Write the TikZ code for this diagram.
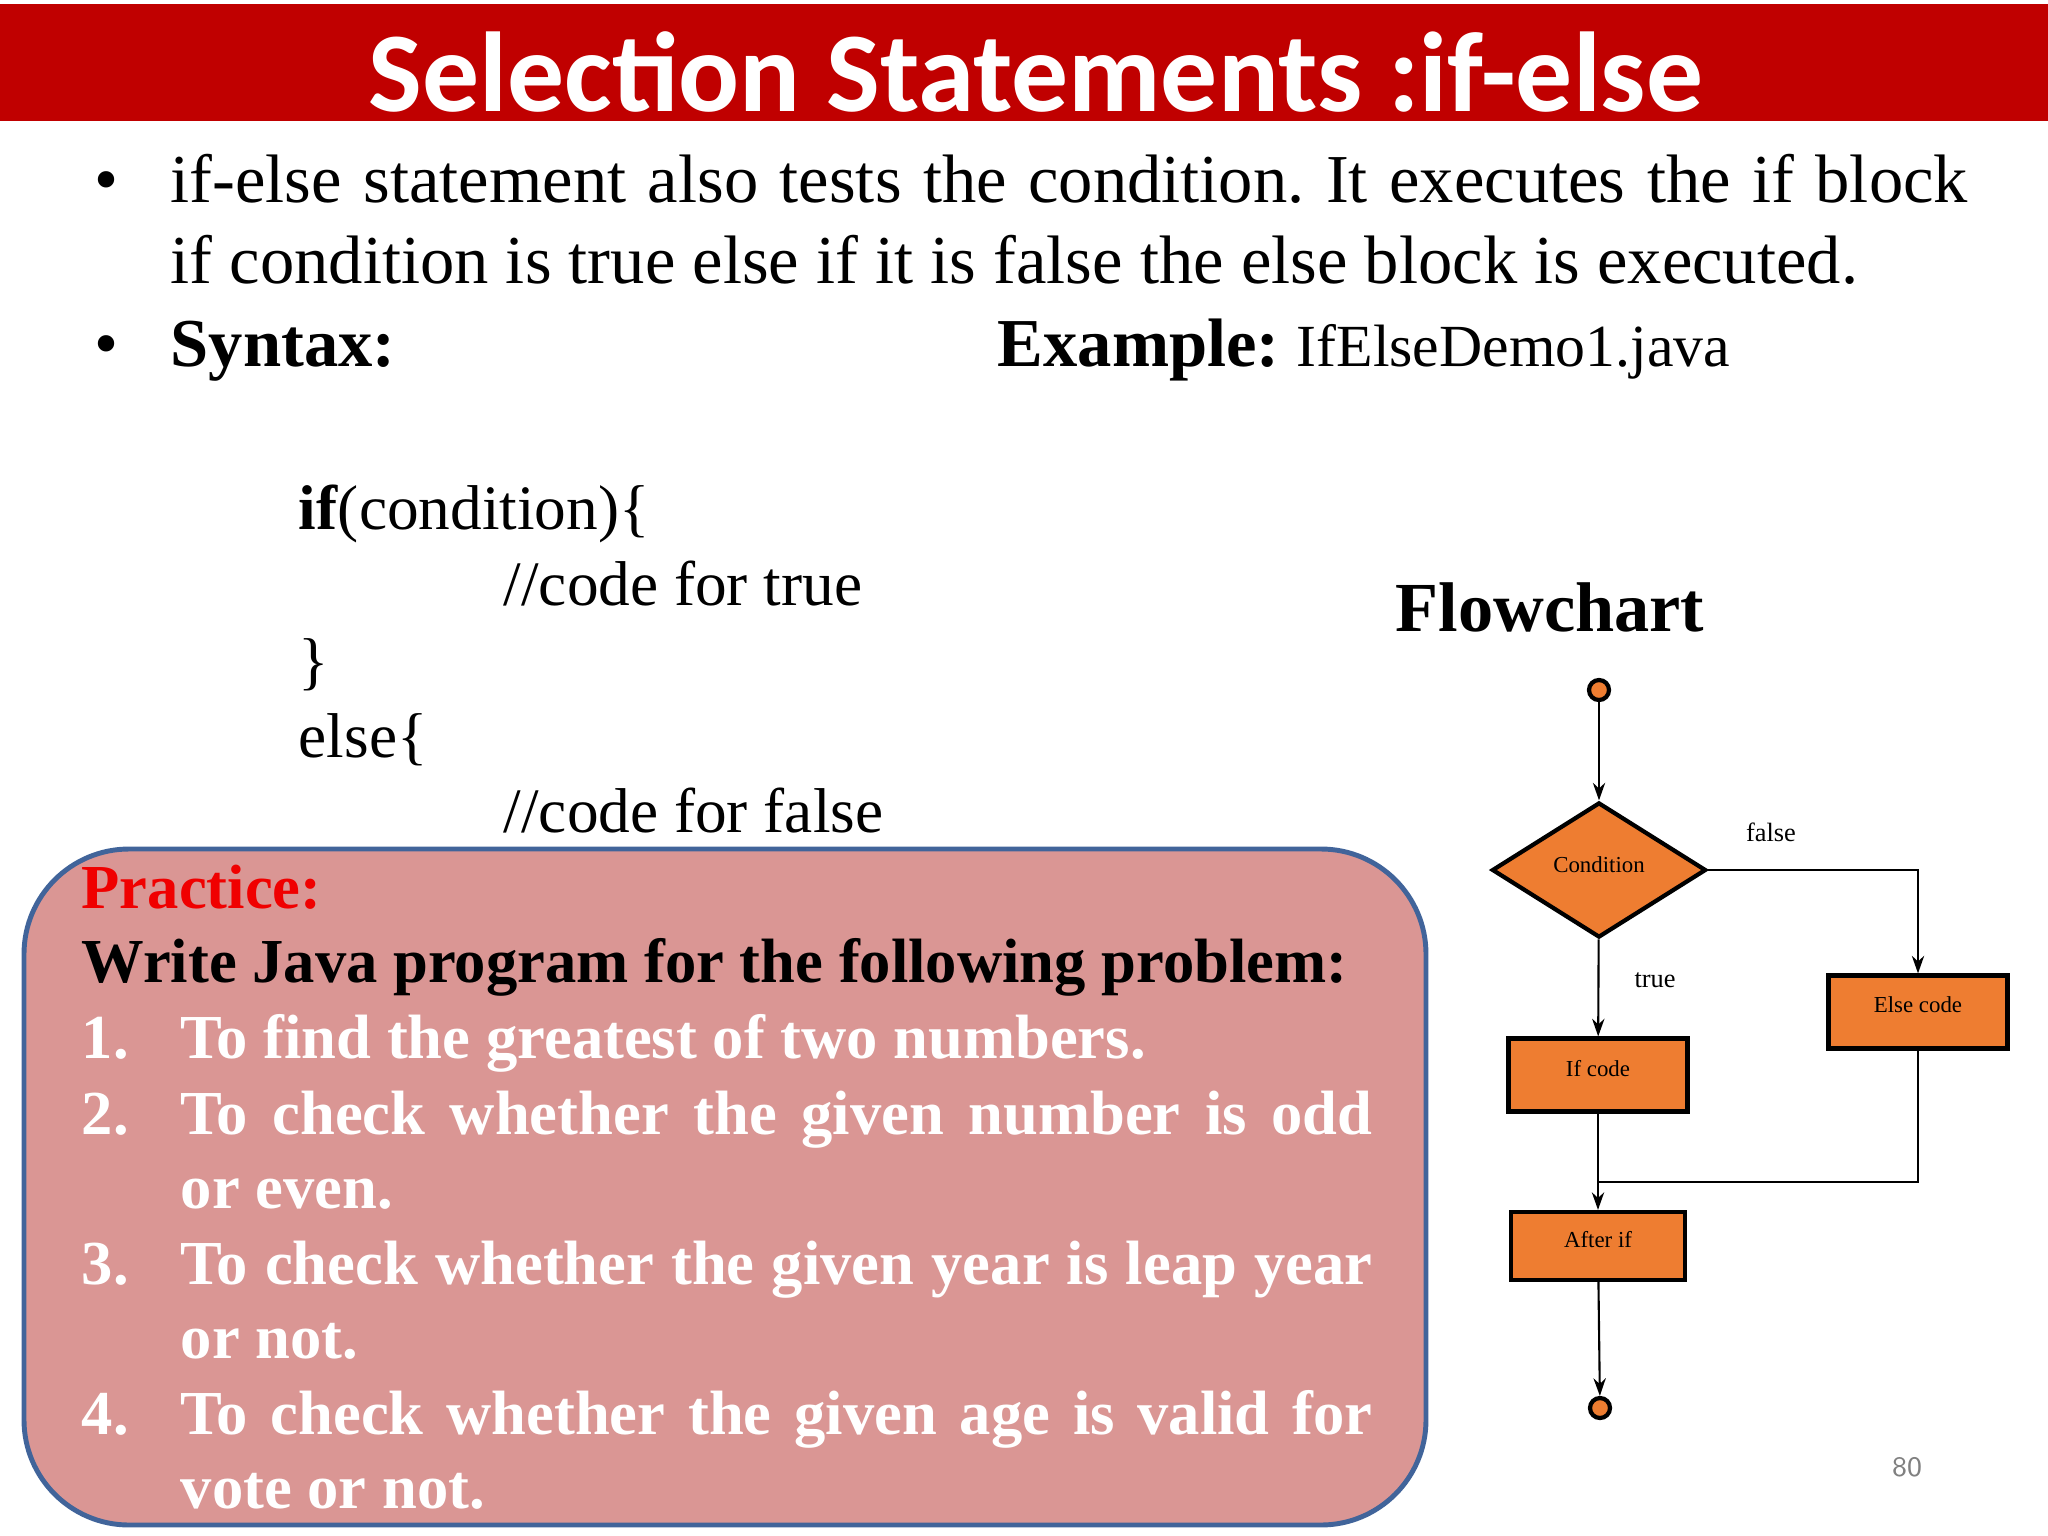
\documentclass[tikz,border=0pt]{standalone}
\usepackage{fontspec}
\setmainfont{Liberation Serif}
\newfontfamily\titlefont{Carlito}
\usetikzlibrary{shapes.geometric,positioning,arrows.meta}
\frenchspacing
\definecolor{titleRed}{HTML}{C00000}
\definecolor{boxPink}{HTML}{DA9694}
\definecolor{boxBlue}{HTML}{41649A}
\definecolor{flowOrange}{HTML}{EE7D31}
\definecolor{practiceRed}{HTML}{F00000}
\tikzset{
  bodyText/.style={anchor=base west, inner sep=0pt, font=\fontsize{19.5}{22}\selectfont},
  codeText/.style={anchor=base west, inner sep=0pt, font=\fontsize{18}{20}\selectfont},
  practiceText/.style={anchor=base west, inner sep=0pt, font=\fontsize{17.8}{20}\selectfont\bfseries},
  flowBox/.style={draw, line width=1.2pt, fill=flowOrange, minimum width=1.79cm, minimum height=0.73cm, inner sep=0pt, font=\fontsize{6.5}{7}\selectfont},
  flowEnd/.style={draw, line width=1.2pt, fill=flowOrange, circle, minimum size=0.2cm, inner sep=0pt},
  flowArrow/.style={-{Stealth[length=5pt,width=3.5pt]}, line width=0.6pt},
  flowLabel/.style={font=\fontsize{7.5}{8}\selectfont, inner sep=0pt}
}
\begin{document}
\begin{tikzpicture}[x=0.01cm, y=-0.01cm]
\useasboundingbox (0,0) rectangle (2048,1536);
\def\itemWidth{11.91cm}

% title bar
\fill[titleRed] (0,4) rectangle (2048,121);
\node[text=white, font=\titlefont\fontsize{32.3}{36}\selectfont\bfseries] (title) at (1036,72) {Selection Statements :if-else};

% bullets
\node[bodyText] (bulA) at (94,202) {\textbullet};
\node[bodyText] (lineA) at (170,202) {\makebox[17.96cm][s]{if-else statement also tests the condition. It executes the if block}};
\node[bodyText] (lineB) at (170,283) {if condition is true else if it is false the else block is executed.};
\node[bodyText] (bulB) at (94,366) {\textbullet};
\node[bodyText] (syntax) at (170,366) {\textbf{Syntax:}};
\node[bodyText] (example) at (997,366) {\textbf{Example:} {\fontsize{17}{20}\selectfont IfElseDemo1.java}};

% code
\node[codeText] (codeA) at (298,529) {\textbf{if}(condition)\{};
\node[codeText] (codeB) at (503,605) {//code for true};
\node[codeText] (codeC) at (298,682) {\}};
\node[codeText] (codeD) at (298,757) {else\{};
\node[codeText] (codeE) at (503,832) {//code for false};

% practice box
\draw[boxBlue, line width=1.4pt, fill=boxPink, rounded corners=1.05cm] (24,849) rectangle (1426,1525);
\node[practiceText, text=practiceRed] (practice) at (81,908) {Practice:};
\node[practiceText] (task) at (81,982) {Write Java program for the following problem:};
\foreach \num/\yPos in {1/1058, 2/1134, 3/1284, 4/1434}
  \node[practiceText, text=white] (num\num) at (81,\yPos) {\num.};
\node[practiceText, text=white] (itemA) at (180,1058) {To find the greatest of two numbers.};
\node[practiceText, text=white] (itemB) at (180,1134) {\makebox[\itemWidth][s]{To check whether the given number is odd}};
\node[practiceText, text=white] (itemBb) at (180,1208) {or even.};
\node[practiceText, text=white] (itemC) at (180,1284) {\makebox[\itemWidth][s]{To check whether the given year is leap year}};
\node[practiceText, text=white] (itemCb) at (180,1358) {or not.};
\node[practiceText, text=white] (itemD) at (180,1434) {\makebox[\itemWidth][s]{To check whether the given age is valid for}};
\node[practiceText, text=white] (itemDb) at (180,1508) {vote or not.};

% flowchart
\node[anchor=base, inner sep=0pt, font=\fontsize{20}{22}\selectfont\bfseries] (flowTitle) at (1550,631) {Flowchart};
\node[flowEnd] (start) at (1599,690) {};
\node[flowBox, diamond, aspect=1.6, minimum width=2.14cm, minimum height=1.35cm] (cond) at (1599,870) {\raisebox{3pt}{Condition}};
\node[flowBox] (ifCode) at (1598,1075) {\raisebox{4pt}{If code}};
\node[flowBox] (elseCode) at (1918,1012) {\raisebox{4pt}{Else code}};
\node[flowBox, minimum width=1.74cm, minimum height=0.68cm] (afterIf) at (1598,1246) {\raisebox{4pt}{After if}};
\node[flowEnd] (stop) at (1600,1408) {};
\coordinate (joinPt) at (1598,1182);

\draw[flowArrow] (start) -- (cond);
\draw[flowArrow] (cond) -- (ifCode);
\node[flowLabel] (trueLbl) at (1655,980) {true};
\draw[flowArrow] (cond.east) -- (cond.east -| elseCode) -- (elseCode);
\node[flowLabel] (falseLbl) at (1771,832) {false};
\draw[flowArrow] (ifCode) -- (afterIf);
\draw[line width=0.6pt] (elseCode) |- (joinPt);
\draw[flowArrow] (afterIf) -- (stop);

\node[text=gray, font=\sffamily\fontsize{8}{9}\selectfont] (pageNum) at (1907,1467) {80};
\end{tikzpicture}
\end{document}
